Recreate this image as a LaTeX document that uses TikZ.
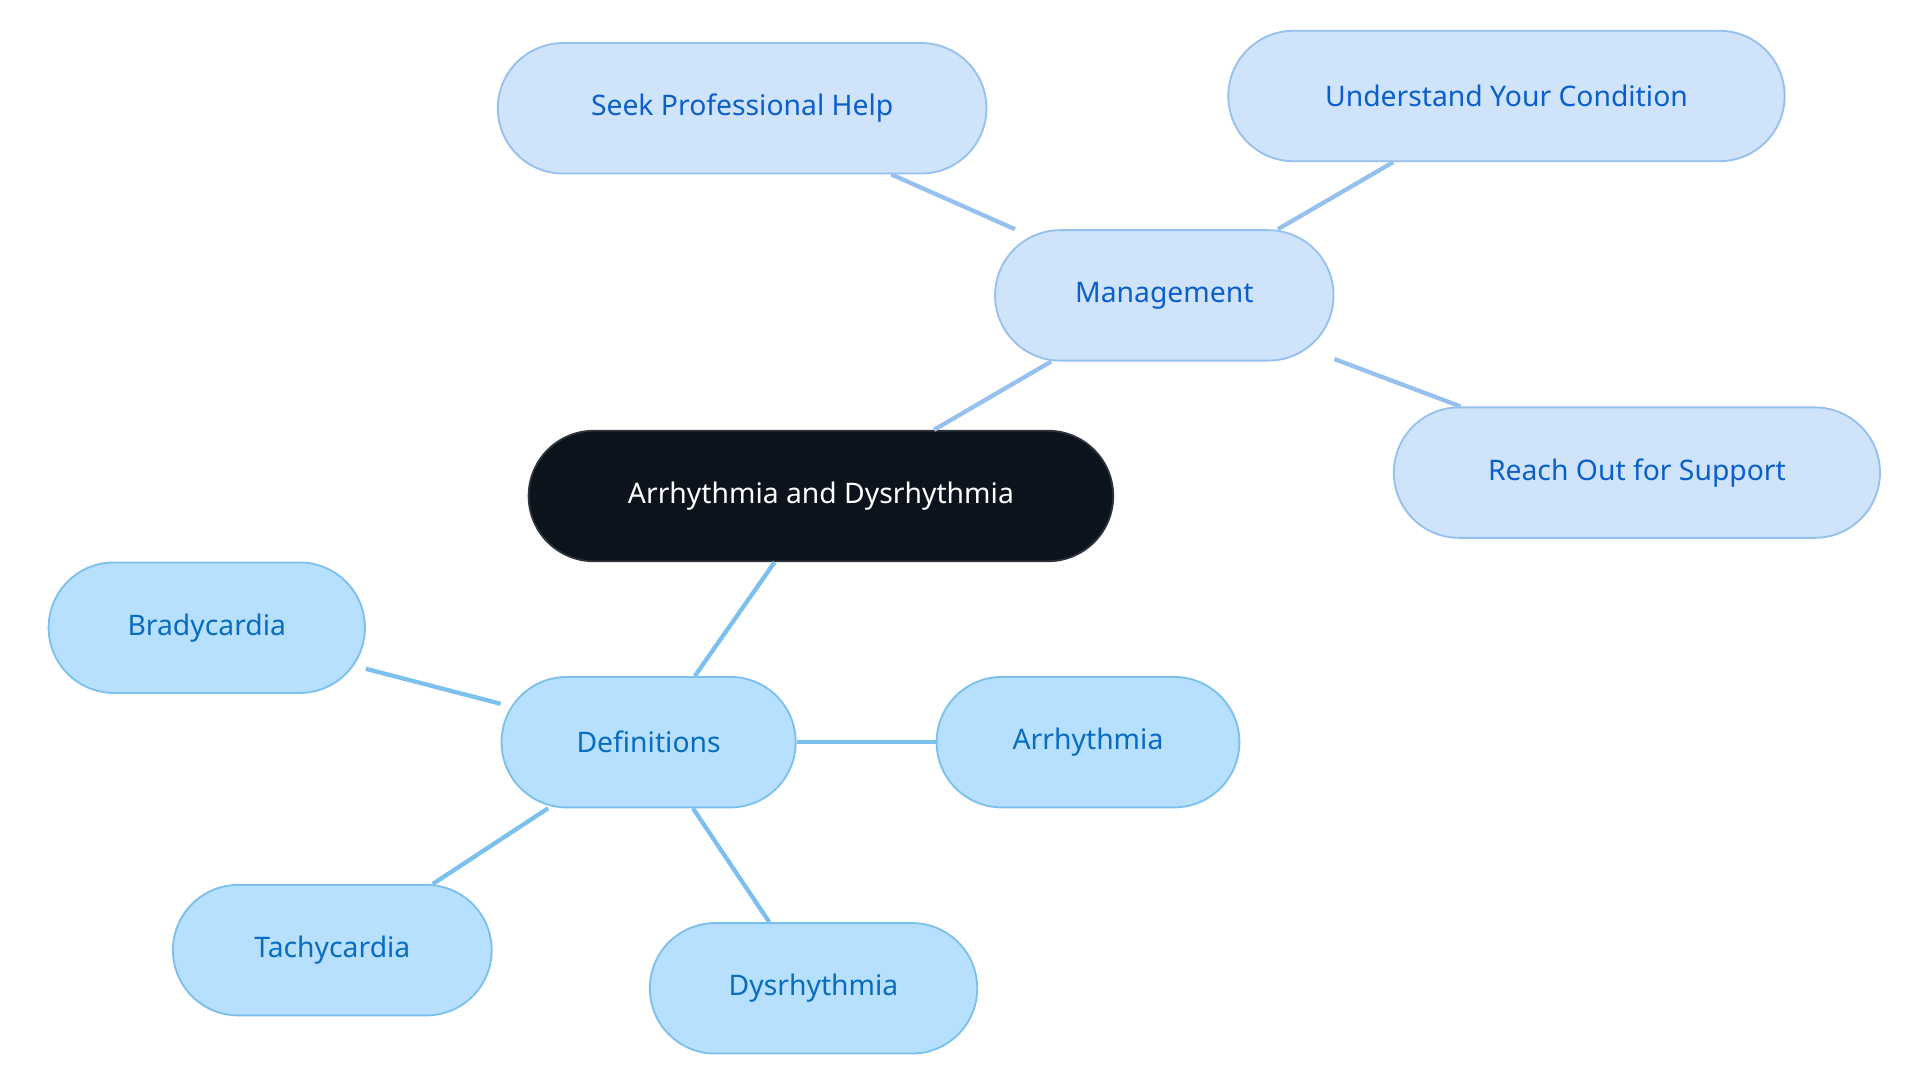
\documentclass[tikz,border=0pt]{standalone}
\usepackage{fontspec}
\setmainfont{Noto Sans}
\begin{document}
\begin{tikzpicture}[x=1pt,y=-1pt,
  base/.style={rounded corners=53pt,minimum height=106pt,line width=1.5pt,font=\fontsize{23}{28}\selectfont,inner sep=0pt},
  mg/.style={base,fill=mgfill,draw=mgline,text=mgtext},
  df/.style={base,fill=dffill,draw=dfline,text=dftext},
  mgl/.style={draw=mgline,line width=3.5pt},
  dfl/.style={draw=dfline,line width=3.5pt}]
\definecolor{mgfill}{HTML}{CFE3FB}\definecolor{mgline}{HTML}{96C0EE}\definecolor{mgtext}{HTML}{0A5FCC}
\definecolor{dffill}{HTML}{B6E0FE}\definecolor{dfline}{HTML}{7CC0EE}\definecolor{dftext}{HTML}{086CC0}
\definecolor{rootfill}{HTML}{0D131C}
\useasboundingbox (0,0) rectangle (1560,880);
\node[base,fill=rootfill,draw=rootfill!70!gray,text=white,minimum width=475pt] (root) at (667,403) {Arrhythmia and Dysrhythmia};
\node[mg,minimum width=275pt] (man) at (946,240) {Management};
\node[mg,minimum width=397pt] (seek) at (603,88) {Seek Professional Help};
\node[mg,minimum width=452pt] (und) at (1224,78) {Understand Your Condition};
\node[mg,minimum width=395pt] (reach) at (1330,384) {Reach Out for Support};
\node[df,minimum width=239pt] (def) at (527,603) {Definitions};
\node[df,minimum width=257pt] (brad) at (168,510) {Bradycardia};
\node[df,minimum width=246pt] (arr) at (884,603) {Arrhythmia};
\node[df,minimum width=259pt] (tach) at (270,772) {Tachycardia};
\node[df,minimum width=266pt] (dys) at (661,803) {Dysrhythmia};
\begin{scope}[on background layer/.style={}]
\end{scope}
\begin{pgfonlayer}{main}\end{pgfonlayer}
\draw[mgl] (root) -- (man);
\draw[mgl] (man) -- (seek);
\draw[mgl] (man) -- (und);
\draw[mgl] (man) -- (reach);
\draw[dfl] (root) -- (def);
\draw[dfl] (def) -- (brad);
\draw[dfl] (def) -- (arr);
\draw[dfl] (def) -- (tach);
\draw[dfl] (def) -- (dys);
\end{tikzpicture}
\end{document}
